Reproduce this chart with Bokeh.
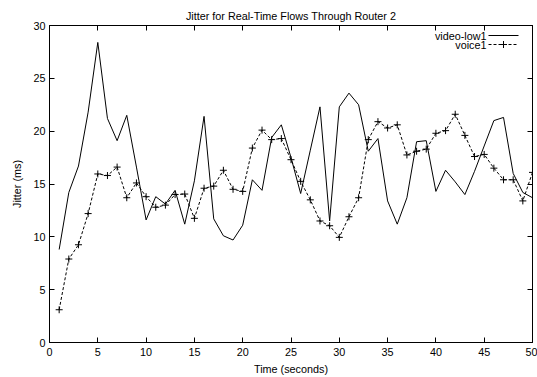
from bokeh.plotting import figure
from bokeh.models import Range1d, LinearAxis, FixedTicker, Label, Arrow
from bokeh.embed import file_html
from bokeh.resources import INLINE

# ---- data ----
time_s = list(range(1, 51))
video_low1 = [8.8, 14.2, 16.7, 21.8, 28.4, 21.2, 19.1, 21.5, 16.6, 11.6,
              13.8, 13.1, 14.4, 11.2, 15.3, 21.4, 11.7, 10.1, 9.7, 11.1,
              15.4, 14.4, 19.4, 20.6, 17.5, 14.1, 18.2, 22.3, 11.5, 22.3,
              23.6, 22.5, 18.1, 19.3, 13.4, 11.2, 13.7, 19.0, 19.1, 14.3,
              16.3, 15.2, 14.0, 16.2, 18.6, 21.0, 21.3, 16.0, 14.2, 13.7]
voice1 = [3.1, 7.9, 9.25, 12.2, 15.95, 15.8, 16.6, 13.7, 15.1, 13.8,
          12.8, 13.0, 14.0, 14.05, 11.75, 14.6, 14.8, 16.3, 14.5, 14.3,
          18.4, 20.1, 19.2, 19.3, 17.3, 15.25, 13.5, 11.5, 11.05, 9.95,
          11.9, 13.7, 19.2, 20.9, 20.3, 20.6, 17.75, 18.1, 18.3, 19.8,
          20.05, 21.6, 19.6, 17.6, 17.8, 16.5, 15.4, 15.4, 13.4, 16.1]
x_ticks = [0, 5, 10, 15, 20, 25, 30, 35, 40, 45, 50]
y_ticks = [0, 5, 10, 15, 20, 25, 30]
title_text = "Jitter for Real-Time Flows Through Router 2"
x_label = "Time (seconds)"
y_label = "Jitter (ms)"
legend_labels = ["video-low1", "voice1"]

# ---- layout ----
W, H = 537, 377
BL, BR, BT, BB = 49, 5, 25, 35
WF, HF = W - BL - BR, H - BT - BB
FONT = "Liberation Sans"
FS = "10.8px"

p = figure(width=W, height=H, output_backend="svg", toolbar_location=None,
           x_range=Range1d(0, 50), y_range=Range1d(0, 30),
           min_border_left=BL, min_border_right=BR,
           min_border_top=BT, min_border_bottom=BB,
           x_axis_label=x_label, y_axis_label=y_label,
           title=title_text)
p.grid.visible = False
p.outline_line_color = "black"
p.outline_line_width = 1
p.outline_line_alpha = 1
p.background_fill_color = "white"
p.border_fill_color = "white"

p.title.align = "center"
p.title.text_font = FONT
p.title.text_font_size = FS
p.title.text_font_style = "normal"
p.title.text_color = "black"
p.title.standoff = 8
p.title.offset = 0


def style_axis(ax, ticks, show_labels=True):
    ax.ticker = FixedTicker(ticks=ticks)
    ax.major_tick_in = 5
    ax.major_tick_out = 0
    ax.minor_tick_line_color = None
    ax.axis_line_color = "black"
    ax.major_tick_line_color = "black"
    ax.major_label_text_color = "black"
    ax.major_label_text_font = FONT
    ax.major_label_text_font_size = FS
    ax.axis_label_text_font = FONT
    ax.axis_label_text_font_size = FS
    ax.axis_label_text_font_style = "normal"
    ax.axis_label_text_color = "black"
    if not show_labels:
        ax.major_label_overrides = {t: "" for t in ticks}
        ax.major_label_standoff = 0


style_axis(p.xaxis[0], x_ticks)
p.xaxis[0].major_label_standoff = 5
p.xaxis[0].axis_label_standoff = 4
style_axis(p.yaxis[0], y_ticks)
p.yaxis[0].major_label_standoff = 4
p.yaxis[0].axis_label_standoff = 7

top_ax = LinearAxis()
style_axis(top_ax, x_ticks, show_labels=False)
p.add_layout(top_ax, "above")
right_ax = LinearAxis()
style_axis(right_ax, y_ticks, show_labels=False)
p.add_layout(right_ax, "right")

# ---- series ----
p.line(time_s, video_low1, line_color="black", line_width=1)
p.line(time_s, voice1, line_color="black", line_width=1, line_dash="3 2")
p.scatter(time_s, voice1, marker="cross", size=7, line_color="black", line_width=1)

# ---- legend (gnuplot style: text left, sample right) ----
rows = [HF - 10, HF - 19]
tx = WF - 46
s0, s1 = WF - 44, WF - 14
for i, lab in enumerate(legend_labels):
    p.add_layout(Label(x=tx, y=rows[i], x_units="screen", y_units="screen",
                       text=lab, text_align="right", text_baseline="middle",
                       text_font=FONT, text_font_size=FS, text_color="black"))
p.add_layout(Arrow(end=None, x_start=s0, y_start=rows[0], x_end=s1, y_end=rows[0],
                   start_units="screen", end_units="screen",
                   line_color="black", line_width=1))
p.add_layout(Arrow(end=None, x_start=s0, y_start=rows[1], x_end=s1, y_end=rows[1],
                   start_units="screen", end_units="screen",
                   line_color="black", line_width=1, line_dash="3 2"))
mx = (s0 + s1) / 2
p.add_layout(Arrow(end=None, x_start=mx, y_start=rows[1] - 3.5, x_end=mx, y_end=rows[1] + 3.5,
                   start_units="screen", end_units="screen",
                   line_color="black", line_width=1))
p.add_layout(Arrow(end=None, x_start=mx - 3.5, y_start=rows[1], x_end=mx + 3.5, y_end=rows[1],
                   start_units="screen", end_units="screen",
                   line_color="black", line_width=1))

open("out.html", "w").write(file_html(p, INLINE))
